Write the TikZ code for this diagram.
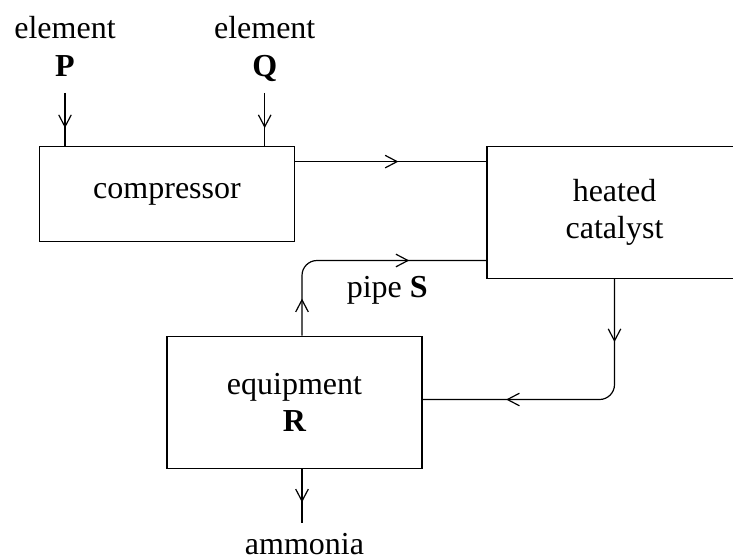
\documentclass[tikz,border=0pt]{standalone}
\usepackage{fontspec}
\setmainfont{Liberation Serif}
\usetikzlibrary{decorations.markings}
\newcommand\flowV{\draw[sharp corners,line width=1.2pt] (-12pt,6.3pt) -- (0pt,0pt) -- (-12pt,-6.3pt);}
\begin{document}
\begin{tikzpicture}[x=1pt,y=-1pt,line width=1.2pt,
  txt/.style={font=\fontsize{32}{37.5}\selectfont, inner sep=0pt, align=center},
  box/.style={txt, draw, rectangle, minimum width=255pt},
  flow/.style={postaction={decorate,decoration={markings,mark=at position #1 with {\flowV}}}},
  flowtwo/.style 2 args={postaction={decorate,decoration={markings,
      mark=at position #1 with {\flowV},mark=at position #2 with {\flowV}}}},
]
\clip (-0.5,-0.5) rectangle (732.5,556.5);
% labels
\node[txt, anchor=north] (elP) at (64.5,15.4) {element\\\textbf{P}};
\node[txt, anchor=north] (elQ) at (264.2,15.4) {element\\\textbf{Q}};
\node[txt, anchor=base] (pipeS) at (386.7,297) {pipe \textbf{S}};
\node[txt, anchor=base] (amm) at (304,553.5) {ammonia};
% boxes
\node[box, minimum height=95pt] (comp) at (166.5,193.5) {compressor};
\node[box, minimum height=132pt] (cat) at (614,212) {heated\\catalyst};
\node[box, minimum height=132pt] (equip) at (294,401.7) {equipment\\\textbf{R}};
% coordinates
\coordinate (p0) at ([yshift=-16pt]elP.south);
\coordinate (q0) at (p0 -| elQ.south);
\coordinate (c0) at ([yshift=-15.7pt]comp.north east);
\coordinate (s0) at ([xshift=7.5pt]equip.north);
\coordinate (s1) at ([yshift=18.6pt]cat.south west);
\coordinate (d1) at ([yshift=2.7pt]equip.east);
\coordinate (a0) at ([xshift=7.5pt]equip.south);
\coordinate (a2) at ([yshift=9pt]amm.north);
% connectors
\draw[flow=34pt] (p0) -- (p0 |- comp.north);
\draw[flow=34pt] (q0) -- (q0 |- comp.north);
\draw[flow=102pt] (c0) -- (c0 -| cat.west);
\draw[rounded corners=15pt, flowtwo={35.7pt}{174.6pt}] (s0) |- (s1);
\draw[rounded corners=15pt, flowtwo={61.7pt}{221pt}] (cat.south) |- (d1);
\draw[flow=32.3pt] (a0) -- (a0 |- a2);
\end{tikzpicture}
\end{document}
